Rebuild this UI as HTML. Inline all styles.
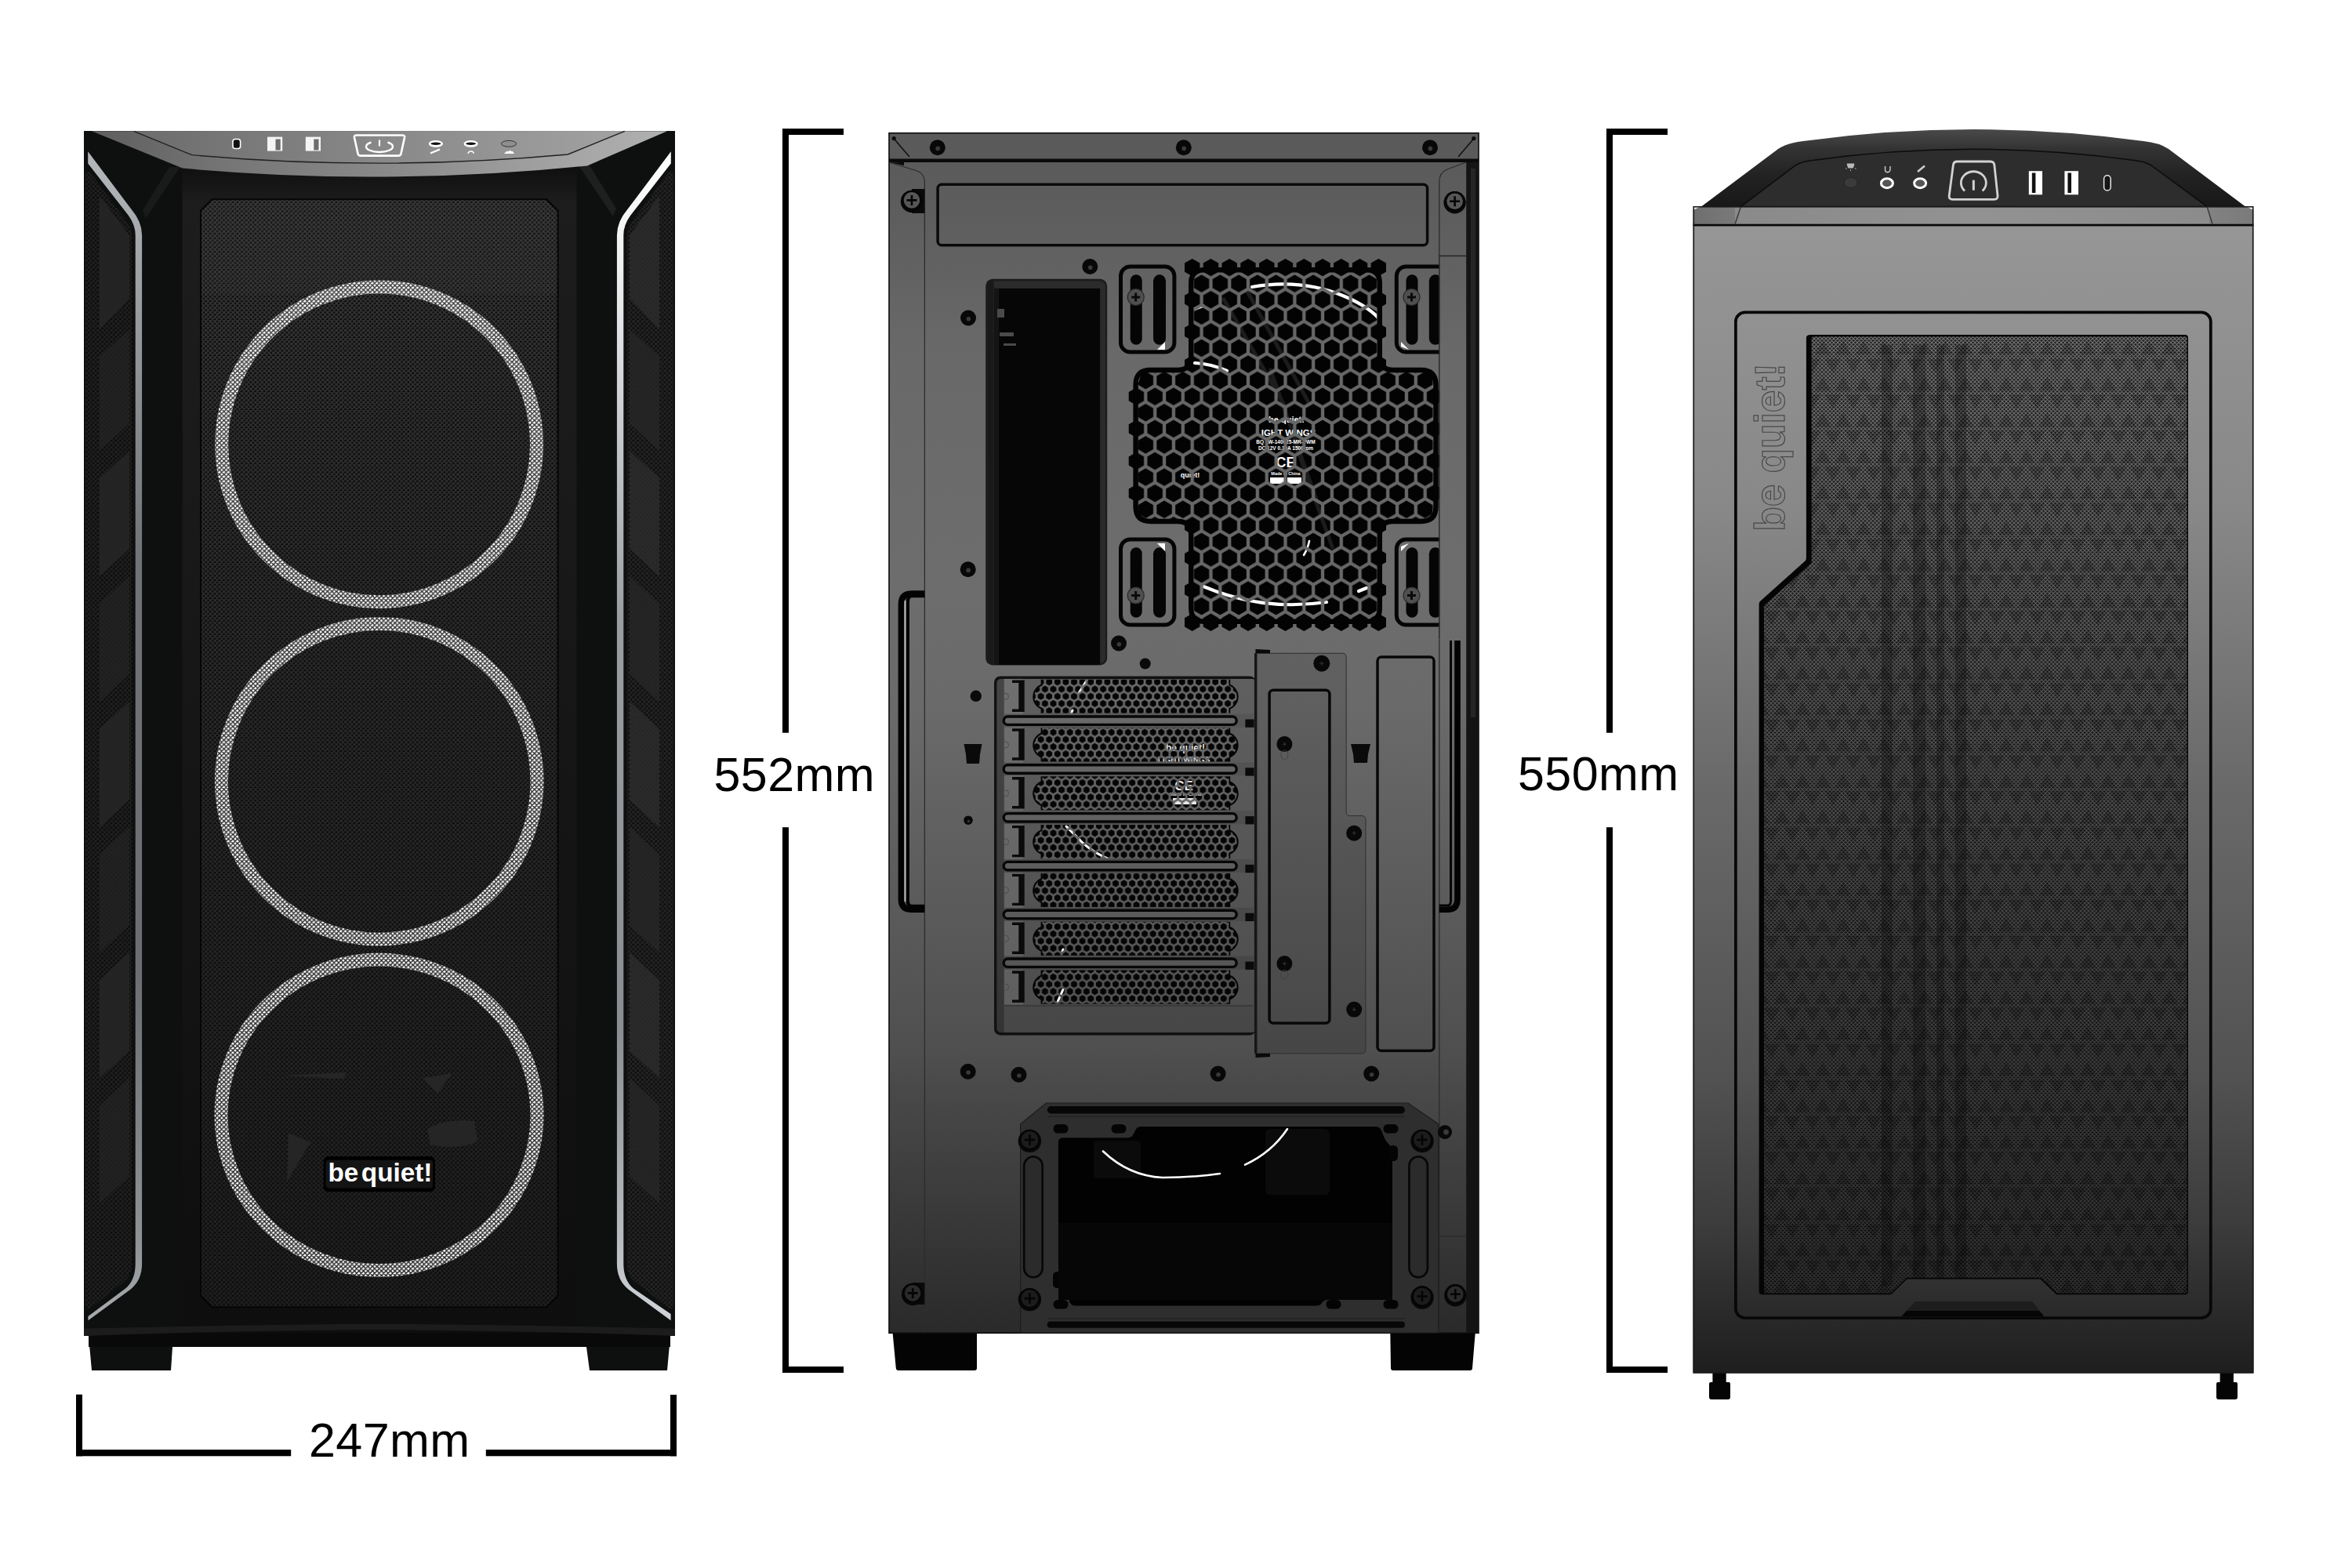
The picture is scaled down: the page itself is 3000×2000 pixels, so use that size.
<!DOCTYPE html>
<html><head><meta charset="utf-8"><title>Case dimensions</title>
<style>
html,body{margin:0;padding:0;background:#fff;width:3000px;height:2000px;overflow:hidden}
svg{display:block;font-family:"Liberation Sans",sans-serif}
</style></head><body>
<svg width="3000" height="2000" viewBox="0 0 3000 2000" xmlns="http://www.w3.org/2000/svg">
<defs>
<!-- diagonal mesh line masks -->
<pattern id="pMeshF" width="5.74" height="5.74" patternUnits="userSpaceOnUse" patternTransform="translate(257 255)">
<rect width="5.74" height="5.74" fill="#000"/>
<path d="M-1,-1L6.74,6.74M-1,4.74L1,6.74M4.74,-1L6.74,1M6.74,-1L-1,6.74M-1,1L1,-1M4.74,6.74L6.74,4.74" stroke="#fff" stroke-width="1.45" fill="none"/>
</pattern>
<mask id="mMeshF" maskUnits="userSpaceOnUse" x="100" y="160" width="770" height="1600"><rect x="100" y="160" width="770" height="1600" fill="url(#pMeshF)"/></mask>
<pattern id="pMeshS" width="5" height="5" patternUnits="userSpaceOnUse" patternTransform="translate(2304 427)">
<rect width="5" height="5" fill="#000"/>
<path d="M-1,-1L6,6M-1,4L1,6M4,-1L6,1M6,-1L-1,6M-1,1L1,-1M4,6L6,4" stroke="#fff" stroke-width="1.05" fill="none"/>
</pattern>
<mask id="mMeshS" maskUnits="userSpaceOnUse" x="2150" y="400" width="740" height="1300"><rect x="2150" y="400" width="740" height="1300" fill="url(#pMeshS)"/></mask>
</defs>
<!-- ================= FRONT VIEW ================= -->
<defs>
<linearGradient id="fTop" x1="117" y1="0" x2="851" y2="0" gradientUnits="userSpaceOnUse">
<stop offset="0" stop-color="#5e5e5e"/><stop offset="0.25" stop-color="#777"/><stop offset="0.55" stop-color="#8c8c8c"/><stop offset="0.85" stop-color="#a6a6a6"/><stop offset="1" stop-color="#b0b0b0"/></linearGradient>
<linearGradient id="fTopIn" x1="170" y1="0" x2="797" y2="0" gradientUnits="userSpaceOnUse">
<stop offset="0" stop-color="#6c6c6c"/><stop offset="0.5" stop-color="#888"/><stop offset="1" stop-color="#a2a2a2"/></linearGradient>
<linearGradient id="fLedL" x1="0" y1="193" x2="0" y2="1685" gradientUnits="userSpaceOnUse">
<stop offset="0" stop-color="#b4b8bb"/><stop offset="0.1" stop-color="#9fa3a6"/><stop offset="0.35" stop-color="#6f7377"/><stop offset="0.7" stop-color="#6a6e72"/><stop offset="0.93" stop-color="#8e9295"/><stop offset="1" stop-color="#a8acaf"/></linearGradient>
<linearGradient id="fLedR" x1="0" y1="193" x2="0" y2="1685" gradientUnits="userSpaceOnUse">
<stop offset="0" stop-color="#ffffff"/><stop offset="0.12" stop-color="#e8eaec"/><stop offset="0.4" stop-color="#9a9ea2"/><stop offset="0.75" stop-color="#8a8e92"/><stop offset="0.93" stop-color="#b8bcc0"/><stop offset="1" stop-color="#d0d4d8"/></linearGradient>
<linearGradient id="fMeshLine" x1="0" y1="255" x2="0" y2="1666" gradientUnits="userSpaceOnUse">
<stop offset="0" stop-color="#3e3e3e"/><stop offset="0.2" stop-color="#343434"/><stop offset="0.6" stop-color="#2a2a2a"/><stop offset="1" stop-color="#222"/></linearGradient>
<linearGradient id="fCol" x1="0" y1="215" x2="0" y2="1700" gradientUnits="userSpaceOnUse">
<stop offset="0" stop-color="#101010"/><stop offset="0.03" stop-color="#1d1d1d"/><stop offset="0.5" stop-color="#161616"/><stop offset="1" stop-color="#0e0e0e"/></linearGradient>
<clipPath id="fPanelClip"><path d="M271,255.3H696.6L710.6,269.3V1652.2L696.6,1666.2H271L257,1652.2V269.3Z"/></clipPath>
<clipPath id="fSideL"><path d="M109,224Q109,215 116,221L160,280Q168.5,291 168.5,304V1612Q168.5,1627 158,1635L116,1668Q109,1673 109,1664Z"/></clipPath>
<clipPath id="fSideR"><path d="M859,224Q859,215 852,221L808,280Q799.5,291 799.5,304V1612Q799.5,1627 810,1635L852,1668Q859,1673 859,1664Z"/></clipPath>
</defs>
<g id="front">
<!-- body -->
<path d="M107,167H861V1704H855L851,1748H752L748,1718H220L218,1748H117L113,1704H107Z" fill="#0e0f0f"/>
<rect x="232.6" y="205" width="502.8" height="1500" fill="url(#fCol)"/>
<!-- top shoulders subtle highlight -->
<path d="M230,213L216,213L182,268L186,278Z" fill="#191a1a"/>
<path d="M738,211L752,211L786,266L782,276Z" fill="#1e1f1f"/>
<!-- top panel -->
<path d="M117,167.3H851L749,211.4Q484,238 232.7,214.6Z" fill="url(#fTop)"/>
<path d="M170.6,167.3H796.8L724.3,197Q484,219 244.6,197.6Z" fill="url(#fTopIn)"/><path d="M170.6,167.3L244.6,197.6Q484,219 724.3,197L796.8,167.3" fill="none" stroke="#222" stroke-width="1.4"/>
<!-- side meshes -->
<g clip-path="url(#fSideL)">
<rect x="107" y="210" width="65" height="1470" fill="#0b0b0b"/>
<g fill="#252525">
<path d="M127,250L165,300V380L127,420Z"/><path d="M127,455L165,420V540L127,575Z" opacity="0.7"/>
<path d="M127,610L165,575V700L127,735Z"/><path d="M127,770L165,735V860L127,895Z" opacity="0.7"/>
<path d="M127,930L165,895V1020L127,1055Z"/><path d="M127,1090L165,1055V1180L127,1215Z" opacity="0.7"/>
<path d="M127,1250L165,1215V1340L127,1375Z"/><path d="M127,1410L165,1375V1500L127,1535Z" opacity="0.7"/>
</g>
<rect x="107" y="210" width="65" height="1470" fill="#232323" mask="url(#mMeshF)"/>
</g>
<g clip-path="url(#fSideR)">
<rect x="796" y="210" width="65" height="1470" fill="#0d0d0d"/>
<g fill="#2c2c2c">
<path d="M841,250L803,300V380L841,420Z"/><path d="M841,455L803,420V540L841,575Z" opacity="0.7"/>
<path d="M841,610L803,575V700L841,735Z"/><path d="M841,770L803,735V860L841,895Z" opacity="0.7"/>
<path d="M841,930L803,895V1020L841,1055Z"/><path d="M841,1090L803,1055V1180L841,1215Z" opacity="0.7"/>
<path d="M841,1250L803,1215V1340L841,1375Z"/><path d="M841,1410L803,1375V1500L841,1535Z" opacity="0.7"/>
</g>
<rect x="796" y="210" width="65" height="1470" fill="#262626" mask="url(#mMeshF)"/>
</g>
<!-- LED strips -->
<path d="M112.2,193.2L167.6,267.1Q181.1,283 181.1,300V1612Q181.1,1633 166,1645L112.4,1684.3V1679L160,1643.5Q172.7,1633 172.7,1612V300Q172.7,287 163.8,274.8L112.2,208.5Z" fill="url(#fLedL)"/>
<path d="M855.8,193.2L800.4,267.1Q786.9,283 786.9,300V1612Q786.9,1633 802,1645L855.6,1684.3V1676L808,1643.5Q795.3,1633 795.3,1612V300Q795.3,287 804.2,274.8L855.8,208.5Z" fill="url(#fLedR)"/>
<!-- central mesh panel -->
<path d="M270,253.3H697.6L712.6,268.3V1653.2L697.6,1668.2H270L255,1653.2V268.3Z" fill="#060606"/>
<g clip-path="url(#fPanelClip)">
<rect x="257" y="255" width="454" height="1412" fill="#0c0c0c"/>
<rect x="257" y="255" width="454" height="120" fill="#141414"/>
<!-- fan rings -->
<g fill="none" stroke="#fff" stroke-width="17">
<circle cx="483.6" cy="566.8" r="200.9"/>
<circle cx="483.7" cy="996.7" r="201.3"/>
<ellipse cx="483.5" cy="1422.3" rx="201.5" ry="198.3"/>
</g>
<!-- faint hub shapes -->
<g fill="#262626">
<path d="M368,1445l28,12-30,50z"/><path d="M545,1440q25,-14 60,-10l4,26q-30,12-60,4z"/><path d="M540,1375l36,-6-18,26z"/><path d="M360,1372l82,-4-4,8z"/>
</g>
<!-- logo badge -->
<!-- mesh overlay -->
<rect x="257" y="255" width="454" height="1412" fill="url(#fMeshLine)" mask="url(#mMeshF)"/>
<rect x="412.6" y="1475.1" width="142.4" height="44.8" rx="6" fill="#000"/>
<rect x="415.6" y="1479.8" width="136.4" height="35.8" rx="4" fill="#141414"/>
<g font-size="32.7px" font-weight="700" fill="#fff"><text x="418.4" y="1506.9" textLength="38.8" lengthAdjust="spacingAndGlyphs">be</text><text x="460.8" y="1506.9" textLength="90.6" lengthAdjust="spacingAndGlyphs">quiet!</text></g>
</g>
<!-- bottom lip -->
<path d="M113,1700H855V1718H113Z" fill="#090909"/>
<path d="M107,1694.6Q300,1690 484,1688.5Q668,1690 861,1694.6V1704Q668,1697 484,1696Q300,1697 107,1704Z" fill="#1c1c1c"/>
<!-- IO icons -->
<g>
<rect x="297" y="177.5" width="9.6" height="12" rx="3" fill="#111" stroke="#fff" stroke-width="1.6"/>
<rect x="341" y="174.6" width="19.2" height="18" fill="#f4f4f4"/><rect x="351.5" y="177.5" width="6.2" height="14" fill="#6d6d6d"/>
<rect x="389.8" y="174.6" width="19.2" height="18" fill="#f4f4f4"/><rect x="400.3" y="177.5" width="6.2" height="14" fill="#6d6d6d"/>
<path d="M454.5,172.5H513.5Q516.5,172.5 516,175.5L511.5,196Q511,198.6 508,198.6H460Q457,198.6 456.5,196L452,175.5Q451.5,172.5 454.5,172.5Z" fill="none" stroke="#fff" stroke-width="2.6"/>
<path d="M473.5,181.5A17,7 0 1 0 494.5,181.5" fill="none" stroke="#fff" stroke-width="2.4"/><path d="M484,178.5V186.5" stroke="#fff" stroke-width="2.2"/>
<ellipse cx="555.9" cy="183.3" rx="7.8" ry="3.1" fill="#111" stroke="#fff" stroke-width="2.6"/>
<ellipse cx="600.6" cy="183.3" rx="7.8" ry="3.1" fill="#111" stroke="#fff" stroke-width="2.6"/>
<path d="M549,195.5L561,190.5" stroke="#fff" stroke-width="2.4"/>
<path d="M597,196a3.6,3 0 1 1 7.2,0" fill="none" stroke="#fff" stroke-width="1.4"/>
<ellipse cx="649" cy="183.3" rx="9.6" ry="3.9" fill="#8f8f8f" stroke="#2a2a2a" stroke-width="0.9"/>
<path d="M643,196h13l-2,-3h-2l-1.5,-1.5l-1.5,1.5h-3z" fill="#fff"/>
</g>
</g>
<!-- ================= BACK VIEW ================= -->
<defs>
<linearGradient id="bBody" x1="0" y1="170" x2="0" y2="1700" gradientUnits="userSpaceOnUse"><stop offset="0.000" stop-color="#5a5a5a"/><stop offset="0.065" stop-color="#5d5d5d"/><stop offset="0.183" stop-color="#696969"/><stop offset="0.373" stop-color="#6d6d6d"/><stop offset="0.477" stop-color="#6a6a6a"/><stop offset="0.582" stop-color="#606060"/><stop offset="0.673" stop-color="#585858"/><stop offset="0.765" stop-color="#4f4f4f"/><stop offset="0.797" stop-color="#494949"/><stop offset="0.895" stop-color="#3a3a3a"/><stop offset="1.000" stop-color="#2a2a2a"/></linearGradient>
<pattern id="pHexB" width="23.760" height="41.154" patternUnits="userSpaceOnUse" patternTransform="translate(1520.7 341.1)"><path d="M0.00,-11.20L9.70,-5.60L9.70,5.60L0.00,11.20L-9.70,5.60L-9.70,-5.60ZM23.76,-11.20L33.46,-5.60L33.46,5.60L23.76,11.20L14.06,5.60L14.06,-5.60ZM0.00,29.95L9.70,35.55L9.70,46.75L0.00,52.35L-9.70,46.75L-9.70,35.55ZM23.76,29.95L33.46,35.55L33.46,46.75L23.76,52.35L14.06,46.75L14.06,35.55ZM11.88,9.38L21.58,14.98L21.58,26.18L11.88,31.78L2.18,26.18L2.18,14.98Z" fill="#000"/></pattern>
<pattern id="pHexW" width="23.760" height="41.154" patternUnits="userSpaceOnUse" patternTransform="translate(1520.7 341.1)"><rect width="23.760" height="41.154" fill="#000"/><path d="M0.00,-11.20L9.70,-5.60L9.70,5.60L0.00,11.20L-9.70,5.60L-9.70,-5.60ZM23.76,-11.20L33.46,-5.60L33.46,5.60L23.76,11.20L14.06,5.60L14.06,-5.60ZM0.00,29.95L9.70,35.55L9.70,46.75L0.00,52.35L-9.70,46.75L-9.70,35.55ZM23.76,29.95L33.46,35.55L33.46,46.75L23.76,52.35L14.06,46.75L14.06,35.55ZM11.88,9.38L21.58,14.98L21.58,26.18L11.88,31.78L2.18,26.18L2.18,14.98Z" fill="#fff"/></pattern>
<mask id="mHexW" maskUnits="userSpaceOnUse" x="1400" y="300" width="500" height="550"><rect x="1400" y="300" width="500" height="550" fill="url(#pHexW)"/></mask>
<pattern id="pHexS" width="10.600" height="18.360" patternUnits="userSpaceOnUse" patternTransform="translate(1327.6 888.2)"><path d="M0.00,-4.55L3.94,-2.27L3.94,2.27L0.00,4.55L-3.94,2.27L-3.94,-2.28ZM10.60,-4.55L14.54,-2.27L14.54,2.27L10.60,4.55L6.66,2.27L6.66,-2.28ZM0.00,13.81L3.94,16.08L3.94,20.63L0.00,22.91L-3.94,20.63L-3.94,16.08ZM10.60,13.81L14.54,16.08L14.54,20.63L10.60,22.91L6.66,20.63L6.66,16.08ZM5.30,4.63L9.24,6.90L9.24,11.45L5.30,13.73L1.36,11.45L1.36,6.90Z" fill="#000"/></pattern>
</defs>
<g id="back">
<path d="M1138.5,1699H1246V1745Q1246,1748 1243,1748H1146Q1143,1748 1142.8,1745Z" fill="#040404"/>
<path d="M1773.3,1699H1881.8L1878,1745Q1878,1748 1875,1748H1777Q1774,1748 1774,1745Z" fill="#040404"/>
<rect x="1134" y="169.7" width="752" height="1530.6" fill="url(#bBody)" stroke="#0c0c0c" stroke-width="1.6"/>
<rect x="1134" y="202.5" width="752" height="4.5" fill="#0a0a0a"/>
<rect x="1870.2" y="207" width="15.8" height="1493" fill="#141414"/>
<rect x="1876" y="215" width="6" height="700" fill="#262626"/>
<path d="M1179.4,1700V232Q1179.4,222 1170,218L1134,207" fill="none" stroke="#2c2c2c" stroke-width="1.3"/>
<path d="M1835.8,1700V232Q1835.8,220 1846,216L1870,207" fill="none" stroke="#2c2c2c" stroke-width="1.3"/>
<path d="M1835.8,326.5H1870M1835.8,1577H1870" stroke="#2c2c2c" stroke-width="1.3"/>
<path d="M1139.5,176L1160,200" stroke="#111" stroke-width="1.6"/><circle cx="1140.2" cy="176.5" r="2.6" fill="#0a0a0a"/>
<path d="M1880.5,176L1860,200" stroke="#111" stroke-width="1.6"/><circle cx="1879.8" cy="176.5" r="2.6" fill="#0a0a0a"/>
<path d="M1136,207.5L1153,211V207Z" fill="#080808"/>
<circle cx="1195.8" cy="188.2" r="10.0" fill="#080808"/><circle cx="1196.2" cy="189.4" r="2.8" fill="#3a3a3a"/>
<circle cx="1509.8" cy="188.2" r="10.0" fill="#080808"/><circle cx="1510.2" cy="189.4" r="2.8" fill="#3a3a3a"/>
<circle cx="1824.0" cy="188.2" r="10.0" fill="#080808"/><circle cx="1824.4" cy="189.4" r="2.8" fill="#3a3a3a"/>
<path d="M1163,241H1179.4V272H1163Z" fill="#0a0a0a"/>
<circle cx="1163.0" cy="256.9" r="14.2" fill="#080808"/><circle cx="1163.0" cy="255.4" r="11.5" fill="#565656" stroke="#050505" stroke-width="2.4"/><path d="M1156.5,255.4h13.0M1163.0,248.9v13.0" stroke="#050505" stroke-width="2.6"/>
<circle cx="1855.6" cy="258.3" r="14.2" fill="#080808"/><circle cx="1855.6" cy="256.8" r="11.5" fill="#565656" stroke="#050505" stroke-width="2.4"/><path d="M1849.1,256.8h13.0M1855.6,250.3v13.0" stroke="#050505" stroke-width="2.6"/>
<path d="M1164,1636H1179.4V1664H1164Z" fill="#0a0a0a"/>
<circle cx="1164.2" cy="1650.9" r="14.2" fill="#080808"/><circle cx="1164.2" cy="1649.4" r="11.5" fill="#2a2a2a" stroke="#050505" stroke-width="2.4"/><path d="M1157.7,1649.4h13.0M1164.2,1642.9v13.0" stroke="#050505" stroke-width="2.6"/>
<circle cx="1856.3" cy="1652.3" r="14.2" fill="#080808"/><circle cx="1856.3" cy="1650.8" r="11.5" fill="#2a2a2a" stroke="#050505" stroke-width="2.4"/><path d="M1849.8,1650.8h13.0M1856.3,1644.3v13.0" stroke="#050505" stroke-width="2.6"/>
<rect x="1196.1" y="235.2" width="624.5" height="77.5" rx="5" fill="none" stroke="#0a0a0a" stroke-width="3.5"/>
<circle cx="1390.3" cy="340.0" r="10.0" fill="#080808"/><circle cx="1390.7" cy="341.2" r="2.8" fill="#3a3a3a"/>
<circle cx="1235.0" cy="405.5" r="10.0" fill="#080808"/><circle cx="1235.4" cy="406.7" r="2.8" fill="#3a3a3a"/>
<circle cx="1234.7" cy="726.2" r="10.0" fill="#080808"/><circle cx="1235.1" cy="727.4" r="2.8" fill="#3a3a3a"/>
<circle cx="1427.0" cy="820.5" r="10.0" fill="#080808"/><circle cx="1427.4" cy="821.7" r="2.8" fill="#3a3a3a"/>
<circle cx="1460.7" cy="846.5" r="7" fill="#0a0a0a"/>
<circle cx="1244.8" cy="887.8" r="7.2" fill="#0a0a0a"/>
<path d="M1229.5,949H1252.5L1250,962L1249,974H1233L1232,962Z" fill="#0a0a0a"/>
<circle cx="1235.0" cy="1046.2" r="5.8" fill="#080808"/><circle cx="1235.4" cy="1047.4" r="1.6" fill="#3a3a3a"/>
<circle cx="1234.7" cy="1366.8" r="10.0" fill="#080808"/><circle cx="1235.1" cy="1368.0" r="2.8" fill="#3a3a3a"/>
<circle cx="1299.5" cy="1370.8" r="10.0" fill="#080808"/><circle cx="1299.9" cy="1372.0" r="2.8" fill="#3a3a3a"/>
<circle cx="1553.6" cy="1369.5" r="10.0" fill="#080808"/><circle cx="1554.0" cy="1370.7" r="2.8" fill="#3a3a3a"/>
<circle cx="1749.2" cy="1369.5" r="10.0" fill="#080808"/><circle cx="1749.6" cy="1370.7" r="2.8" fill="#3a3a3a"/>
<rect x="1257.2" y="355.8" width="155" height="492.7" rx="9" fill="#1c1c1c"/>
<rect x="1259.5" y="358.5" width="150.4" height="487.5" rx="7" fill="#2b2b2b"/>
<rect x="1259.5" y="358.5" width="8" height="487.5" fill="#191919"/>
<rect x="1268.2" y="367.9" width="135" height="480" fill="#060606"/>
<rect x="1268.2" y="367.9" width="6" height="480" fill="#151515"/>
<path d="M1272,394h9v11h-9zM1275,424h18v5h-18zM1280,438h16v3h-16z" fill="#4a4a4a"/>
<path d="M1179.3,757H1163Q1149.4,757 1149.4,771V1147Q1149.4,1160.3 1163,1160.3H1179.3" fill="none" stroke="#030303" stroke-width="7.6"/>
<path d="M1179.3,760H1163Q1157.8,760 1157.8,768V1149Q1157.8,1156 1163,1156H1179.3" fill="none" stroke="#030303" stroke-width="4.4"/>
<rect x="1153.5" y="766" width="2" height="384" fill="#b5b5b5"/>
<path d="M1835.8,757H1846Q1859,757 1859,771V1147Q1859,1160.3 1846,1160.3H1835.8" fill="none" stroke="#030303" stroke-width="7.6"/>
<path d="M1835.8,762H1846Q1850.5,762 1850.5,768V1149Q1850.5,1155 1846,1155H1835.8" fill="none" stroke="#050505" stroke-width="3"/>
<rect x="1429.5" y="340.0" width="68.4" height="109.0" rx="12" fill="none" stroke="#050505" stroke-width="5"/>
<rect x="1441.7" y="350.3" width="15" height="89.5" rx="7.5" fill="#050505"/>
<rect x="1471.0" y="350.3" width="16" height="89.5" rx="8" fill="#050505"/>
<rect x="1429.5" y="688.0" width="68.4" height="109.0" rx="12" fill="none" stroke="#050505" stroke-width="5"/>
<rect x="1441.7" y="698.3" width="15" height="89.5" rx="7.5" fill="#050505"/>
<rect x="1471.0" y="698.3" width="16" height="89.5" rx="8" fill="#050505"/>
<rect x="1781.3" y="340.0" width="68.4" height="109.0" rx="12" fill="none" stroke="#050505" stroke-width="5"/>
<rect x="1793.5" y="350.3" width="15" height="89.5" rx="7.5" fill="#050505"/>
<rect x="1822.8" y="350.3" width="16" height="89.5" rx="8" fill="#050505"/>
<rect x="1781.3" y="688.0" width="68.4" height="109.0" rx="12" fill="none" stroke="#050505" stroke-width="5"/>
<rect x="1793.5" y="698.3" width="15" height="89.5" rx="7.5" fill="#050505"/>
<rect x="1822.8" y="698.3" width="16" height="89.5" rx="8" fill="#050505"/>
<circle cx="1448.7" cy="379.0" r="10.5" fill="#4f4f4f" stroke="#2a2a2a" stroke-width="1.2"/>
<path d="M1443.2,379.0h11M1448.7,373.5v11" stroke="#0a0a0a" stroke-width="3"/>
<circle cx="1448.7" cy="759.5" r="10.5" fill="#4f4f4f" stroke="#2a2a2a" stroke-width="1.2"/>
<path d="M1443.2,759.5h11M1448.7,754.0v11" stroke="#0a0a0a" stroke-width="3"/>
<circle cx="1800.5" cy="379.0" r="10.5" fill="#4f4f4f" stroke="#2a2a2a" stroke-width="1.2"/>
<path d="M1795.0,379.0h11M1800.5,373.5v11" stroke="#0a0a0a" stroke-width="3"/>
<circle cx="1800.5" cy="759.5" r="10.5" fill="#4f4f4f" stroke="#2a2a2a" stroke-width="1.2"/>
<path d="M1795.0,759.5h11M1800.5,754.0v11" stroke="#0a0a0a" stroke-width="3"/>
<path d="M1476,446L1486,436V446Z M1476,693L1486,703V693Z M1797,446l-10,-10v6z M1797,693l-10,10v-6z" fill="#fff"/>
<path d="M1520.70,329.90L1530.40,335.50L1530.40,346.70L1520.70,352.30L1511.00,346.70L1511.00,335.50ZM1544.46,329.90L1554.16,335.50L1554.16,346.70L1544.46,352.30L1534.76,346.70L1534.76,335.50ZM1568.22,329.90L1577.92,335.50L1577.92,346.70L1568.22,352.30L1558.52,346.70L1558.52,335.50ZM1591.98,329.90L1601.68,335.50L1601.68,346.70L1591.98,352.30L1582.28,346.70L1582.28,335.50ZM1615.74,329.90L1625.44,335.50L1625.44,346.70L1615.74,352.30L1606.04,346.70L1606.04,335.50ZM1639.50,329.90L1649.20,335.50L1649.20,346.70L1639.50,352.30L1629.80,346.70L1629.80,335.50ZM1663.26,329.90L1672.96,335.50L1672.96,346.70L1663.26,352.30L1653.56,346.70L1653.56,335.50ZM1687.02,329.90L1696.72,335.50L1696.72,346.70L1687.02,352.30L1677.32,346.70L1677.32,335.50ZM1710.78,329.90L1720.48,335.50L1720.48,346.70L1710.78,352.30L1701.08,346.70L1701.08,335.50ZM1734.54,329.90L1744.24,335.50L1744.24,346.70L1734.54,352.30L1724.84,346.70L1724.84,335.50ZM1758.30,329.90L1768.00,335.50L1768.00,346.70L1758.30,352.30L1748.60,346.70L1748.60,335.50ZM1520.70,371.05L1530.40,376.65L1530.40,387.85L1520.70,393.45L1511.00,387.85L1511.00,376.65ZM1758.30,371.05L1768.00,376.65L1768.00,387.85L1758.30,393.45L1748.60,387.85L1748.60,376.65ZM1520.70,412.21L1530.40,417.81L1530.40,429.01L1520.70,434.61L1511.00,429.01L1511.00,417.81ZM1758.30,412.21L1768.00,417.81L1768.00,429.01L1758.30,434.61L1748.60,429.01L1748.60,417.81ZM1520.70,453.36L1530.40,458.96L1530.40,470.16L1520.70,475.76L1511.00,470.16L1511.00,458.96ZM1758.30,453.36L1768.00,458.96L1768.00,470.16L1758.30,475.76L1748.60,470.16L1748.60,458.96ZM1461.30,473.94L1471.00,479.54L1471.00,490.74L1461.30,496.34L1451.60,490.74L1451.60,479.54ZM1449.42,494.51L1459.12,500.11L1459.12,511.31L1449.42,516.91L1439.72,511.31L1439.72,500.11ZM1829.58,494.51L1839.28,500.11L1839.28,511.31L1829.58,516.91L1819.88,511.31L1819.88,500.11ZM1461.30,515.09L1471.00,520.69L1471.00,531.89L1461.30,537.49L1451.60,531.89L1451.60,520.69ZM1449.42,535.67L1459.12,541.27L1459.12,552.47L1449.42,558.07L1439.72,552.47L1439.72,541.27ZM1829.58,535.67L1839.28,541.27L1839.28,552.47L1829.58,558.07L1819.88,552.47L1819.88,541.27ZM1461.30,556.24L1471.00,561.84L1471.00,573.04L1461.30,578.64L1451.60,573.04L1451.60,561.84ZM1449.42,576.82L1459.12,582.42L1459.12,593.62L1449.42,599.22L1439.72,593.62L1439.72,582.42ZM1829.58,576.82L1839.28,582.42L1839.28,593.62L1829.58,599.22L1819.88,593.62L1819.88,582.42ZM1461.30,597.40L1471.00,603.00L1471.00,614.20L1461.30,619.80L1451.60,614.20L1451.60,603.00ZM1449.42,617.97L1459.12,623.57L1459.12,634.77L1449.42,640.37L1439.72,634.77L1439.72,623.57ZM1829.58,617.97L1839.28,623.57L1839.28,634.77L1829.58,640.37L1819.88,634.77L1819.88,623.57ZM1461.30,638.55L1471.00,644.15L1471.00,655.35L1461.30,660.95L1451.60,655.35L1451.60,644.15ZM1520.70,659.13L1530.40,664.73L1530.40,675.93L1520.70,681.53L1511.00,675.93L1511.00,664.73ZM1758.30,659.13L1768.00,664.73L1768.00,675.93L1758.30,681.53L1748.60,675.93L1748.60,664.73ZM1520.70,700.28L1530.40,705.88L1530.40,717.08L1520.70,722.68L1511.00,717.08L1511.00,705.88ZM1758.30,700.28L1768.00,705.88L1768.00,717.08L1758.30,722.68L1748.60,717.08L1748.60,705.88ZM1520.70,741.44L1530.40,747.04L1530.40,758.24L1520.70,763.84L1511.00,758.24L1511.00,747.04ZM1758.30,741.44L1768.00,747.04L1768.00,758.24L1758.30,763.84L1748.60,758.24L1748.60,747.04ZM1520.70,782.59L1530.40,788.19L1530.40,799.39L1520.70,804.99L1511.00,799.39L1511.00,788.19ZM1544.46,782.59L1554.16,788.19L1554.16,799.39L1544.46,804.99L1534.76,799.39L1534.76,788.19ZM1568.22,782.59L1577.92,788.19L1577.92,799.39L1568.22,804.99L1558.52,799.39L1558.52,788.19ZM1591.98,782.59L1601.68,788.19L1601.68,799.39L1591.98,804.99L1582.28,799.39L1582.28,788.19ZM1615.74,782.59L1625.44,788.19L1625.44,799.39L1615.74,804.99L1606.04,799.39L1606.04,788.19ZM1639.50,782.59L1649.20,788.19L1649.20,799.39L1639.50,804.99L1629.80,799.39L1629.80,788.19ZM1663.26,782.59L1672.96,788.19L1672.96,799.39L1663.26,804.99L1653.56,799.39L1653.56,788.19ZM1687.02,782.59L1696.72,788.19L1696.72,799.39L1687.02,804.99L1677.32,799.39L1677.32,788.19ZM1710.78,782.59L1720.48,788.19L1720.48,799.39L1710.78,804.99L1701.08,799.39L1701.08,788.19ZM1734.54,782.59L1744.24,788.19L1744.24,799.39L1734.54,804.99L1724.84,799.39L1724.84,788.19ZM1758.30,782.59L1768.00,788.19L1768.00,799.39L1758.30,804.99L1748.60,799.39L1748.60,788.19Z" fill="#030303"/>
<path d="M1536,344.2H1743Q1759.8,344.2 1759.8,361V455Q1759.8,472 1777,472H1812.5Q1831.5,472 1831.5,491V646Q1831.5,665 1812.5,665H1777Q1759.8,665 1759.8,682V776Q1759.8,792.8 1743,792.8H1536Q1519.2,792.8 1519.2,776V682Q1519.2,665 1502,665H1467.5Q1448.6,665 1448.6,646V491Q1448.6,472 1467.5,472H1502Q1519.2,472 1519.2,455V361Q1519.2,344.2 1536,344.2Z" fill="#030303"/>
<clipPath id="bCore"><path d="M1536,344.2H1743Q1759.8,344.2 1759.8,361V455Q1759.8,472 1777,472H1812.5Q1831.5,472 1831.5,491V646Q1831.5,665 1812.5,665H1777Q1759.8,665 1759.8,682V776Q1759.8,792.8 1743,792.8H1536Q1519.2,792.8 1519.2,776V682Q1519.2,665 1502,665H1467.5Q1448.6,665 1448.6,646V491Q1448.6,472 1467.5,472H1502Q1519.2,472 1519.2,455V361Q1519.2,344.2 1536,344.2Z"/></clipPath>
<g clip-path="url(#bCore)">
<g fill="none" stroke="#fff" stroke-width="4.2" stroke-linecap="round">
<path d="M1597,366Q1660,355 1715,378Q1748,392 1762,410"/>
<path d="M1524,394L1534,390"/>
<path d="M1524,463Q1545,464 1565,473"/>
<path d="M1453,478L1447,496M1444,504L1440,520"/>
<path d="M1535,748Q1610,780 1692,768"/>
<path d="M1733,754L1743,750"/>
<path d="M1510,802Q1535,800 1553,795"/>
<path d="M1670,690Q1668,700 1663,708" stroke-width="2.6"/>
<path d="M1832,640L1828,655" stroke-width="2.6"/>
</g>
<g stroke="#1c1c1c" stroke-width="5" fill="none"><path d="M1560,380L1640,520M1590,370L1670,515M1620,470L1680,640M1650,560L1700,700"/></g>
<g fill="#fff" font-weight="700" text-anchor="middle">
<text x="1641" y="539" font-size="11px">be quiet!</text>
<text x="1640" y="556" font-size="11.5px">LIGHT WINGS</text>
<text x="1640" y="566" font-size="6.5px">BQ LW-140025-MR-PWM</text>
<text x="1640" y="574" font-size="6.5px">DC 12V  0.30A  1500rpm</text>
<text x="1640" y="596" font-size="18px">CE</text>
<text x="1640" y="606" font-size="5.5px">Made in China</text>
<rect x="1620" y="609" width="18" height="8"/><rect x="1642" y="609" width="18" height="8"/>
<text x="1518" y="609" font-size="9px">quiet!</text>
</g>
<mask id="mWall" maskUnits="userSpaceOnUse" x="1400" y="300" width="500" height="550"><rect x="1400" y="300" width="500" height="550" fill="#fff"/><rect x="1400" y="300" width="500" height="550" fill="url(#pHexB)"/></mask>
<rect x="1430" y="320" width="420" height="500" fill="#676767" mask="url(#mWall)"/>
</g>
<path d="M1536,344.2H1743Q1759.8,344.2 1759.8,361V455Q1759.8,472 1777,472H1812.5Q1831.5,472 1831.5,491V646Q1831.5,665 1812.5,665H1777Q1759.8,665 1759.8,682V776Q1759.8,792.8 1743,792.8H1536Q1519.2,792.8 1519.2,776V682Q1519.2,665 1502,665H1467.5Q1448.6,665 1448.6,646V491Q1448.6,472 1467.5,472H1502Q1519.2,472 1519.2,455V361Q1519.2,344.2 1536,344.2Z" fill="none" stroke="#030303" stroke-width="6.4"/>
<rect x="1836.4" y="327" width="33.6" height="490" fill="url(#bBody)"/>
<path d="M1835.8,325V815M1835.8,326.5H1870" stroke="#2c2c2c" stroke-width="1.3"/>
<rect x="1268" y="862.4" width="334" height="458" rx="8" fill="#111"/>
<rect x="1271.5" y="866" width="330.5" height="451" rx="5" fill="url(#bBody)"/>
<rect x="1271.5" y="866" width="330.5" height="451" rx="5" fill="#000" opacity="0.18"/>
<rect x="1271.5" y="866" width="9" height="451" fill="#000" opacity="0.2"/>
<rect x="1281" y="865.7" width="318" height="45.0" fill="#fff" opacity="0.05"/>
<rect x="1281" y="865.7" width="24" height="45" fill="#fff" opacity="0.10"/>
<path d="M1291,869.2H1305V906.2H1291" fill="none" stroke="#0a0a0a" stroke-width="3.4"/>
<rect x="1299.3" y="869.2" width="5.6" height="37" fill="#0a0a0a"/>
<circle cx="1282.5" cy="888.2" r="4" fill="none" stroke="#444" stroke-width="0.8"/>
<rect x="1317.2" y="871.7" width="262.5" height="34" rx="17" fill="#050505"/>
<rect x="1327.6" y="866.7" width="241.6" height="43" fill="#050505"/>
<rect x="1281" y="927.5" width="318" height="45.0" fill="#fff" opacity="0.05"/>
<rect x="1281" y="927.5" width="24" height="45" fill="#fff" opacity="0.10"/>
<path d="M1291,931.0H1305V968.0H1291" fill="none" stroke="#0a0a0a" stroke-width="3.4"/>
<rect x="1299.3" y="931.0" width="5.6" height="37" fill="#0a0a0a"/>
<circle cx="1282.5" cy="950.0" r="4" fill="none" stroke="#444" stroke-width="0.8"/>
<rect x="1317.2" y="933.5" width="262.5" height="34" rx="17" fill="#050505"/>
<rect x="1327.6" y="928.5" width="241.6" height="43" fill="#050505"/>
<rect x="1281" y="989.3" width="318" height="45.0" fill="#fff" opacity="0.05"/>
<rect x="1281" y="989.3" width="24" height="45" fill="#fff" opacity="0.10"/>
<path d="M1291,992.8H1305V1029.8H1291" fill="none" stroke="#0a0a0a" stroke-width="3.4"/>
<rect x="1299.3" y="992.8" width="5.6" height="37" fill="#0a0a0a"/>
<circle cx="1282.5" cy="1011.8" r="4" fill="none" stroke="#444" stroke-width="0.8"/>
<rect x="1317.2" y="995.3" width="262.5" height="34" rx="17" fill="#050505"/>
<rect x="1327.6" y="990.3" width="241.6" height="43" fill="#050505"/>
<rect x="1281" y="1051.1" width="318" height="45.0" fill="#fff" opacity="0.05"/>
<rect x="1281" y="1051.1" width="24" height="45" fill="#fff" opacity="0.10"/>
<path d="M1291,1054.6H1305V1091.6H1291" fill="none" stroke="#0a0a0a" stroke-width="3.4"/>
<rect x="1299.3" y="1054.6" width="5.6" height="37" fill="#0a0a0a"/>
<circle cx="1282.5" cy="1073.6" r="4" fill="none" stroke="#444" stroke-width="0.8"/>
<rect x="1317.2" y="1057.1" width="262.5" height="34" rx="17" fill="#050505"/>
<rect x="1327.6" y="1052.1" width="241.6" height="43" fill="#050505"/>
<rect x="1281" y="1112.9" width="318" height="45.0" fill="#fff" opacity="0.05"/>
<rect x="1281" y="1112.9" width="24" height="45" fill="#fff" opacity="0.10"/>
<path d="M1291,1116.4H1305V1153.4H1291" fill="none" stroke="#0a0a0a" stroke-width="3.4"/>
<rect x="1299.3" y="1116.4" width="5.6" height="37" fill="#0a0a0a"/>
<circle cx="1282.5" cy="1135.4" r="4" fill="none" stroke="#444" stroke-width="0.8"/>
<rect x="1317.2" y="1118.9" width="262.5" height="34" rx="17" fill="#050505"/>
<rect x="1327.6" y="1113.9" width="241.6" height="43" fill="#050505"/>
<rect x="1281" y="1174.7" width="318" height="45.0" fill="#fff" opacity="0.05"/>
<rect x="1281" y="1174.7" width="24" height="45" fill="#fff" opacity="0.10"/>
<path d="M1291,1178.2H1305V1215.2H1291" fill="none" stroke="#0a0a0a" stroke-width="3.4"/>
<rect x="1299.3" y="1178.2" width="5.6" height="37" fill="#0a0a0a"/>
<circle cx="1282.5" cy="1197.2" r="4" fill="none" stroke="#444" stroke-width="0.8"/>
<rect x="1317.2" y="1180.7" width="262.5" height="34" rx="17" fill="#050505"/>
<rect x="1327.6" y="1175.7" width="241.6" height="43" fill="#050505"/>
<rect x="1281" y="1236.5" width="318" height="45.0" fill="#fff" opacity="0.05"/>
<rect x="1281" y="1236.5" width="24" height="45" fill="#fff" opacity="0.10"/>
<path d="M1291,1240.0H1305V1277.0H1291" fill="none" stroke="#0a0a0a" stroke-width="3.4"/>
<rect x="1299.3" y="1240.0" width="5.6" height="37" fill="#0a0a0a"/>
<circle cx="1282.5" cy="1259.0" r="4" fill="none" stroke="#444" stroke-width="0.8"/>
<rect x="1317.2" y="1242.5" width="262.5" height="34" rx="17" fill="#050505"/>
<rect x="1327.6" y="1237.5" width="241.6" height="43" fill="#050505"/>
<mask id="mPciWall" maskUnits="userSpaceOnUse" x="1300" y="850" width="300" height="480"><rect x="1300" y="850" width="300" height="480" fill="#fff"/><rect x="1300" y="850" width="300" height="480" fill="url(#pHexS)"/></mask>
<clipPath id="cPills">
<rect x="1319.2" y="873.7" width="258.5" height="30" rx="15"/>
<rect x="1329.5" y="866.7" width="238" height="43"/>
<rect x="1319.2" y="935.5" width="258.5" height="30" rx="15"/>
<rect x="1329.5" y="928.5" width="238" height="43"/>
<rect x="1319.2" y="997.3" width="258.5" height="30" rx="15"/>
<rect x="1329.5" y="990.3" width="238" height="43"/>
<rect x="1319.2" y="1059.1" width="258.5" height="30" rx="15"/>
<rect x="1329.5" y="1052.1" width="238" height="43"/>
<rect x="1319.2" y="1120.9" width="258.5" height="30" rx="15"/>
<rect x="1329.5" y="1113.9" width="238" height="43"/>
<rect x="1319.2" y="1182.7" width="258.5" height="30" rx="15"/>
<rect x="1329.5" y="1175.7" width="238" height="43"/>
<rect x="1319.2" y="1244.5" width="258.5" height="30" rx="15"/>
<rect x="1329.5" y="1237.5" width="238" height="43"/>
</clipPath>
<g clip-path="url(#cPills)">
<g fill="none" stroke="#fff" stroke-width="3" stroke-linecap="round">
<path d="M1386,868L1376,884M1368,906l-2,4"/><path d="M1360,1054L1372,1066Q1400,1098 1456,1108"/><path d="M1470,1112Q1500,1114 1522,1108"/><path d="M1410,1158L1396,1170"/><path d="M1356,1262L1349,1278"/><path d="M1354,1216l2,-5"/>
</g>
<g fill="#e8e8e8" font-weight="700" text-anchor="middle"><text x="1512" y="958" font-size="12px">be quiet!</text><text x="1510" y="973" font-size="10px">LIGHT WINGS</text><text x="1510" y="1008" font-size="17px">CE</text><text x="1512" y="1015" font-size="6px">Made in China</text><rect x="1496" y="1018" width="30" height="8"/></g>
<rect x="1300" y="850" width="300" height="480" fill="url(#bBody)" mask="url(#mPciWall)"/>
</g>
<rect x="1280.2" y="914.0" width="297" height="10.4" rx="5.2" fill="url(#bBody)" stroke="#070707" stroke-width="3.4"/>
<rect x="1588.4" y="917.5" width="11.2" height="10.3" fill="#0a0a0a"/>
<rect x="1280.2" y="975.8" width="297" height="10.4" rx="5.2" fill="url(#bBody)" stroke="#070707" stroke-width="3.4"/>
<rect x="1588.4" y="979.3" width="11.2" height="10.3" fill="#0a0a0a"/>
<rect x="1280.2" y="1037.6" width="297" height="10.4" rx="5.2" fill="url(#bBody)" stroke="#070707" stroke-width="3.4"/>
<rect x="1588.4" y="1041.1" width="11.2" height="10.3" fill="#0a0a0a"/>
<rect x="1280.2" y="1099.4" width="297" height="10.4" rx="5.2" fill="url(#bBody)" stroke="#070707" stroke-width="3.4"/>
<rect x="1588.4" y="1102.9" width="11.2" height="10.3" fill="#0a0a0a"/>
<rect x="1280.2" y="1161.2" width="297" height="10.4" rx="5.2" fill="url(#bBody)" stroke="#070707" stroke-width="3.4"/>
<rect x="1588.4" y="1164.7" width="11.2" height="10.3" fill="#0a0a0a"/>
<rect x="1280.2" y="1223.0" width="297" height="10.4" rx="5.2" fill="url(#bBody)" stroke="#070707" stroke-width="3.4"/>
<rect x="1588.4" y="1226.5" width="11.2" height="10.3" fill="#0a0a0a"/>
<rect x="1281" y="1283" width="318" height="33" fill="#fff" opacity="0.03"/>
<path d="M1281,1283H1598" stroke="#333" stroke-width="1"/>
<path d="M1601.4,833.3H1712Q1717.2,833.3 1717.2,838.5V1035Q1717.2,1040.5 1722.5,1040.5H1737Q1742,1040.5 1742,1046V1338Q1742,1343.8 1736.5,1343.8H1601.4Z" fill="url(#bBody)" stroke="#333" stroke-width="1"/>
<path d="M1601.4,833.3H1712Q1717.2,833.3 1717.2,838.5V1035Q1717.2,1040.5 1722.5,1040.5H1737Q1742,1040.5 1742,1046V1338Q1742,1343.8 1736.5,1343.8H1601.4Z" fill="#000" opacity="0.10"/>
<path d="M1601.4,828L1620,829V833.3H1601.4ZM1601.4,1349L1620,1348V1343.8H1601.4Z" fill="#0a0a0a"/>
<rect x="1600" y="833.3" width="3.4" height="510.5" fill="#161616"/>
<rect x="1619.1" y="880.2" width="76.8" height="424.8" rx="5" fill="none" stroke="#080808" stroke-width="3.5"/>
<rect x="1757" y="838" width="72" height="502.3" rx="5" fill="none" stroke="#080808" stroke-width="3.5"/>
<circle cx="1685.8" cy="846.2" r="10.5" fill="#080808"/>
<path d="M1683.3,846.2h5M1685.8,843.7v5" stroke="#2e2e2e" stroke-width="1.2"/>
<circle cx="1638.4" cy="949.1" r="10.0" fill="#080808"/>
<path d="M1635.9,949.1h5M1638.4,946.6v5" stroke="#2e2e2e" stroke-width="1.2"/>
<circle cx="1727.2" cy="1062.7" r="10.0" fill="#080808"/>
<path d="M1724.7,1062.7h5M1727.2,1060.2v5" stroke="#2e2e2e" stroke-width="1.2"/>
<circle cx="1638.4" cy="1229.1" r="10.0" fill="#080808"/>
<path d="M1635.9,1229.1h5M1638.4,1226.6v5" stroke="#2e2e2e" stroke-width="1.2"/>
<circle cx="1727.2" cy="1287.6" r="10.0" fill="#080808"/>
<path d="M1724.7,1287.6h5M1727.2,1285.1v5" stroke="#2e2e2e" stroke-width="1.2"/>
<ellipse cx="1638.4" cy="963" rx="4.5" ry="6" fill="none" stroke="#3f3f3f" stroke-width="0.9"/><ellipse cx="1638.4" cy="1243" rx="4.5" ry="6" fill="none" stroke="#3f3f3f" stroke-width="0.9"/>
<path d="M1723,949H1748L1745,962L1744,973H1727L1726,962Z" fill="#0a0a0a"/>
<path d="M1334.3,1407H1796L1834.9,1433.8V1700H1301.6V1433.8Z" fill="#2e2e2e" stroke="#1c1c1c" stroke-width="1.2"/>
<rect x="1335.7" y="1411" width="456.3" height="9.4" rx="4.7" fill="#070707"/>
<rect x="1335.7" y="1685.6" width="456.3" height="8.2" rx="4.1" fill="#070707"/>
<path d="M1336,1424H1792M1336,1682H1792" stroke="#1c1c1c" stroke-width="1.2"/>
<path d="M1356,1451.2H1438Q1444,1451.2 1446,1446L1449,1440Q1451,1437 1456,1437H1754Q1760,1437 1762,1442L1766,1452Q1768,1456 1772,1460Q1776,1464 1776,1470V1652Q1776,1658 1770,1658H1694Q1688,1658 1686,1662Q1684,1665.5 1678,1665.5H1372Q1366,1665.5 1364,1660L1361,1632Q1360,1626 1356,1622Q1349.9,1617 1349.9,1610V1457Q1349.9,1451.2 1356,1451.2Z" fill="#020202"/>
<rect x="1350" y="1652" width="426" height="6" fill="#020202" opacity="0"/>
<rect x="1343.5" y="1434.0" width="19.0" height="11.5" rx="5.5" fill="#040404"/>
<rect x="1417.5" y="1434.0" width="19.0" height="11.5" rx="5.5" fill="#040404"/>
<rect x="1343.0" y="1622.0" width="12.5" height="21.0" rx="5.5" fill="#040404"/>
<rect x="1343.5" y="1658.0" width="19.0" height="11.5" rx="5.5" fill="#040404"/>
<rect x="1691.5" y="1658.0" width="19.0" height="11.5" rx="5.5" fill="#040404"/>
<rect x="1764.5" y="1658.0" width="19.0" height="11.5" rx="5.5" fill="#040404"/>
<rect x="1764.5" y="1434.0" width="19.0" height="11.5" rx="5.5" fill="#040404"/>
<rect x="1771.0" y="1461.0" width="12.0" height="20.0" rx="5.5" fill="#040404"/>
<g fill="#0b0b0b"><rect x="1614" y="1440" width="82" height="84" rx="6"/><rect x="1395" y="1455" width="60" height="48" rx="4"/></g>
<g fill="none" stroke="#fff" stroke-width="2.6" stroke-linecap="round"><path d="M1407,1468.5Q1440,1500 1483,1502Q1520,1502 1556,1497"/><path d="M1588,1485.6Q1622,1470 1642,1440"/></g>
<rect x="1350" y="1560" width="426" height="98" fill="#060606"/>
<circle cx="1313.4" cy="1455.4" r="14.7" fill="#080808"/><circle cx="1313.4" cy="1453.9" r="12.0" fill="#1c1c1c" stroke="#050505" stroke-width="2.4"/><path d="M1306.7,1453.9h13.5M1313.4,1447.2v13.5" stroke="#050505" stroke-width="2.6"/>
<circle cx="1313.4" cy="1657.6" r="14.7" fill="#080808"/><circle cx="1313.4" cy="1656.1" r="12.0" fill="#1c1c1c" stroke="#050505" stroke-width="2.4"/><path d="M1306.7,1656.1h13.5M1313.4,1649.3v13.5" stroke="#050505" stroke-width="2.6"/>
<circle cx="1814.0" cy="1455.4" r="14.7" fill="#080808"/><circle cx="1814.0" cy="1453.9" r="12.0" fill="#1c1c1c" stroke="#050505" stroke-width="2.4"/><path d="M1807.2,1453.9h13.5M1814.0,1447.2v13.5" stroke="#050505" stroke-width="2.6"/>
<circle cx="1814.0" cy="1655.0" r="14.7" fill="#080808"/><circle cx="1814.0" cy="1653.5" r="12.0" fill="#1c1c1c" stroke="#050505" stroke-width="2.4"/><path d="M1807.2,1653.5h13.5M1814.0,1646.8v13.5" stroke="#050505" stroke-width="2.6"/>
<rect x="1306.2" y="1475.3" width="23.5" height="154" rx="11.7" fill="#2b2b2b" stroke="#070707" stroke-width="2.6"/>
<rect x="1797.4" y="1475.3" width="23.5" height="154" rx="11.7" fill="#2b2b2b" stroke="#070707" stroke-width="2.6"/>
<circle cx="1843" cy="1444" r="9" fill="#080808"/><circle cx="1844.5" cy="1444" r="3.4" fill="#3a3a3a"/>
</g>
<!-- ================= SIDE VIEW ================= -->
<defs>
<linearGradient id="sBody" x1="0" y1="288" x2="0" y2="1751" gradientUnits="userSpaceOnUse">
<stop offset="0" stop-color="#969696"/><stop offset="0.247" stop-color="#888"/><stop offset="0.493" stop-color="#696969"/><stop offset="0.74" stop-color="#525252"/><stop offset="0.87" stop-color="#3c3c3c"/><stop offset="1" stop-color="#1e1e1e"/></linearGradient>
<linearGradient id="sMeshLine" x1="0" y1="427" x2="0" y2="1651" gradientUnits="userSpaceOnUse">
<stop offset="0" stop-color="#787878"/><stop offset="0.3" stop-color="#606060"/><stop offset="0.6" stop-color="#4a4a4a"/><stop offset="1" stop-color="#343434"/></linearGradient>
<linearGradient id="sMeshBg" x1="0" y1="427" x2="0" y2="1651" gradientUnits="userSpaceOnUse">
<stop offset="0" stop-color="#222"/><stop offset="0.5" stop-color="#1a1a1a"/><stop offset="1" stop-color="#121212"/></linearGradient>
<linearGradient id="sCap" x1="0" y1="165" x2="0" y2="263" gradientUnits="userSpaceOnUse">
<stop offset="0" stop-color="#4a4a4a"/><stop offset="0.25" stop-color="#333"/><stop offset="0.6" stop-color="#222"/><stop offset="1" stop-color="#181818"/></linearGradient>
<linearGradient id="sBand" x1="2159" y1="0" x2="2875" y2="0" gradientUnits="userSpaceOnUse">
<stop offset="0" stop-color="#6e6e6e"/><stop offset="0.075" stop-color="#7a7a7a"/><stop offset="0.0751" stop-color="#8a8a8a"/><stop offset="0.5" stop-color="#929292"/><stop offset="0.92" stop-color="#8c8c8c"/><stop offset="0.9201" stop-color="#828282"/><stop offset="1" stop-color="#7a7a7a"/></linearGradient>
<pattern id="pTri" width="26" height="46" patternUnits="userSpaceOnUse" patternTransform="translate(2312 432)">
<path d="M2.5,20.5L13,2.5L23.5,20.5Z M15.5,25.5L26,43.5L36.5,25.5Z M-10.5,25.5L0,43.5L10.5,25.5Z" fill="#000"/>
</pattern>
<clipPath id="sMeshClip"><path d="M2314,429.2H2786.5Q2789.5,429.2 2789.5,432.2V1646.5Q2789.5,1649.6 2786.5,1649.6H2623.7L2603.2,1629.8H2431.8L2411.3,1649.6H2253Q2250,1649.6 2250,1646.5V772.5L2310.7,718V432.2Q2310.7,429.2 2314,429.2Z"/></clipPath>
</defs>
<g id="side">
<!-- feet -->
<path d="M2184.4,1750H2201.7V1763H2205Q2207,1763 2207,1765V1782Q2207,1785 2204,1785H2183Q2180,1785 2180,1782V1765Q2180,1763 2182,1763H2184.4Z" fill="#050505"/>
<path d="M2831.6,1750H2848.9V1763H2852Q2854,1763 2854,1765V1782Q2854,1785 2851,1785H2830Q2827,1785 2827,1782V1765Q2827,1763 2829,1763H2831.6Z" fill="#050505"/>
<!-- top cap -->
<path d="M2170,263.5L2268,190Q2280,182 2300,180Q2517,150 2734,180Q2754,182 2766,190L2864,263.5Z" fill="url(#sCap)"/>
<path d="M2220.6,263.5L2290,211Q2298,206 2312,204.5Q2517,176 2722,204.5Q2736,206 2744,211L2815,263.5Z" fill="#2d2d2d" stroke="#0c0c0c" stroke-width="1.5"/>
<!-- band -->
<rect x="2159.5" y="263" width="715" height="23" fill="url(#sBand)"/>
<path d="M2220.6,263L2213,286M2815,263L2822,286" stroke="#3a3a3a" stroke-width="1.5"/>
<path d="M2159.5,268L2170,263H2159.5ZM2874.5,268L2864,263H2874.5Z" fill="#fff"/>
<!-- body -->
<rect x="2159.5" y="285.7" width="715" height="1465.8" fill="url(#sBody)"/>
<rect x="2159.5" y="285.7" width="715" height="2.8" fill="#0a0a0a"/>
<rect x="2160.3" y="263.8" width="713.4" height="1487" fill="none" stroke="#1a1a1a" stroke-width="1.6"/>
<!-- recess outline -->
<rect x="2213.9" y="398.3" width="605.9" height="1282.9" rx="12" fill="none" stroke="#080808" stroke-width="3.75"/>
<!-- embossed logo -->
<text transform="translate(2276.3 677.8) rotate(-90)" font-size="54px" font-weight="700" fill="none" stroke="#484848" stroke-width="1.2" textLength="214.5" lengthAdjust="spacingAndGlyphs">be quiet!</text>
<!-- mesh -->
<path d="M2309.5,426.9H2787Q2791,426.9 2791,431V1647Q2791,1651.3 2787,1651.3H2623L2602.5,1631.5H2432.4L2412,1651.3H2248Q2243.6,1651.3 2243.6,1647V770.5Q2243.6,768.5 2245,767L2302.5,715.5Q2303.9,714 2303.9,712V431Q2303.9,426.9 2309.5,426.9Z" fill="#050505"/>
<g clip-path="url(#sMeshClip)">
<rect x="2240" y="425" width="560" height="1230" fill="url(#sMeshBg)"/>
<rect x="2240" y="425" width="560" height="1230" fill="url(#sMeshLine)" mask="url(#mMeshS)"/>
<rect x="2240" y="425" width="560" height="1230" fill="url(#pTri)" opacity="0.2"/>
<g fill="#000" opacity="0.25"><rect x="2400" y="440" width="14" height="1200"/><rect x="2440" y="440" width="16" height="1200"/><rect x="2470" y="440" width="10" height="1200"/><rect x="2494" y="440" width="14" height="1200"/></g>
</g>
<!-- handle recess -->
<path d="M2425.5,1679L2442.7,1660H2592L2607.3,1679Z" fill="#1d1d1d"/>
<path d="M2425.5,1679L2432,1672H2601L2607.3,1679Z" fill="#060606"/>
<!-- IO icons -->
<ellipse cx="2360.7" cy="233" rx="8.4" ry="6.5" fill="#3b3b3b" stroke="#222" stroke-width="0.8"/>
<path d="M2356,209h9l-1.5,5h-6z M2354,215h1.5M2366,215h1.5M2360.5,216.5v1.5" fill="#bbb" stroke="#bbb" stroke-width="1"/>
<ellipse cx="2406.9" cy="233.7" rx="7.5" ry="6" fill="#555" stroke="#fff" stroke-width="3"/>
<ellipse cx="2449.1" cy="233.7" rx="7.5" ry="6" fill="#555" stroke="#fff" stroke-width="3"/>
<path d="M2404.5,212v4.5a3.2,3.2 0 0 0 6.4,0v-4.5" fill="none" stroke="#ccc" stroke-width="1.4"/>
<path d="M2446,219L2455,211.5" stroke="#ccc" stroke-width="2.6"/>
<path d="M2496.6,206H2538.8Q2543.2,206 2543.8,210.2L2548,249.5Q2548.5,254.3 2543.6,254.3H2490.4Q2485.7,254.3 2486.2,249.5L2491.4,210.2Q2492,206 2496.6,206Z" fill="none" stroke="#d2d2d2" stroke-width="2.8"/>
<path d="M2506,243.5A16,14.5 0 1 1 2528.6,243.5" fill="none" stroke="#d2d2d2" stroke-width="2.8"/><path d="M2517.3,229.7V242.7" stroke="#d2d2d2" stroke-width="3"/>
<rect x="2587.8" y="218.2" width="17.2" height="30.1" fill="#fff"/><rect x="2591.8" y="220.5" width="4.6" height="25.5" fill="#111"/>
<rect x="2633.4" y="218.2" width="17.6" height="30.1" fill="#fff"/><rect x="2637.4" y="220.5" width="4.6" height="25.5" fill="#111"/>
<rect x="2683.6" y="223.7" width="8.6" height="19.3" rx="4.3" fill="#161616" stroke="#e6e6e6" stroke-width="1.5"/>
</g>
<!-- dimension brackets -->
<g fill="#000">
<rect x="998" y="164" width="78" height="8"/><rect x="998" y="164" width="8" height="770.7"/>
<rect x="998" y="1055.2" width="8" height="695.8"/><rect x="998" y="1743" width="78" height="8"/>
<rect x="2049" y="164" width="78" height="8"/><rect x="2049" y="164" width="8" height="770.7"/>
<rect x="2049" y="1055.2" width="8" height="695.8"/><rect x="2049" y="1743" width="78" height="8"/>
<rect x="97" y="1778.7" width="8" height="78.6"/><rect x="97" y="1849" width="274.2" height="8.3"/>
<rect x="619.8" y="1849" width="243.2" height="8.3"/><rect x="855" y="1779" width="8" height="78.3"/>
</g>
<g fill="#000" font-size="61px" letter-spacing="0.4">
<text x="910.5" y="1008.5">552mm</text>
<text x="1936" y="1007.9">550mm</text>
<text x="394" y="1858.3">247mm</text>
</g>
</svg>
</body></html>
